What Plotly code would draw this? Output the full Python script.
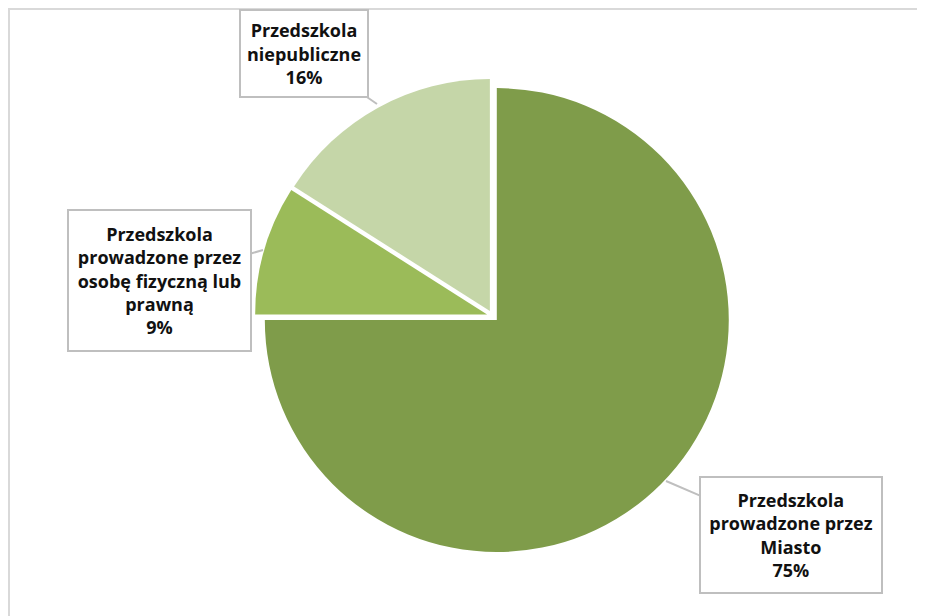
import plotly.graph_objects as go

# Data
labels = ["Przedszkola prowadzone przez Miasto",
          "Przedszkola prowadzone przez osobę fizyczną lub prawną",
          "Przedszkola niepubliczne"]
label_text = ["Przedszkola<br>prowadzone przez<br>Miasto<br>75%",
              "Przedszkola<br>prowadzone przez<br>osobę fizyczną lub<br>prawną<br>9%",
              "Przedszkola<br>niepubliczne<br>16%"]
values = [75, 9, 16]
colors = ["#7F9C4A", "#9BBB59", "#C5D6A8"]

W, H = 925, 616
OX, OY = 8, 8  # page offset of the figure

fig = go.Figure(go.Pie(
    labels=labels,
    values=values,
    sort=False,
    direction="clockwise",
    rotation=0,
    pull=[0.025, 0.025, 0.025],
    marker=dict(colors=colors, line=dict(width=0)),
    textinfo="none",
    hoverinfo="label+percent",
    domain=dict(x=[0.19, 0.858], y=[0.114, 0.886]),
    showlegend=False,
))

# callout boxes (page px): tip x, tip y, box center x, box center y, box w, box h
callouts = [
    (666, 481, 791, 535, 180, 114),
    (263, 250, 159.5, 280.5, 181, 139),
    (377, 104, 304, 53.5, 126, 85),
]

font = dict(family="Open Sans", size=18, color="#111111")
for txt, (tx, ty, bx, by, bw, bh) in zip(label_text, callouts):
    fig.add_annotation(
        x=(tx - OX) / W, y=1 - (ty - OY) / H, xref="paper", yref="paper",
        ax=bx - tx, ay=by - ty,
        text="<b>" + txt + "</b>",
        showarrow=True, arrowhead=0, arrowwidth=2, arrowcolor="#BFBFBF",
        font=font, align="center",
        bgcolor="white", bordercolor="#BFBFBF", borderwidth=2, borderpad=0,
        width=bw, height=bh, valign="middle",
    )

# chart area border
fig.add_shape(type="rect", xref="paper", yref="paper",
              x0=1 / W, x1=1.05, y0=-0.05, y1=1 - 1 / H,
              line=dict(color="#D9D9D9", width=2), fillcolor="rgba(0,0,0,0)",
              layer="below")

fig.update_layout(
    width=W, height=H,
    margin=dict(l=0, r=0, t=0, b=0),
    paper_bgcolor="white", plot_bgcolor="white",
)

fig.write_html("out.html")
